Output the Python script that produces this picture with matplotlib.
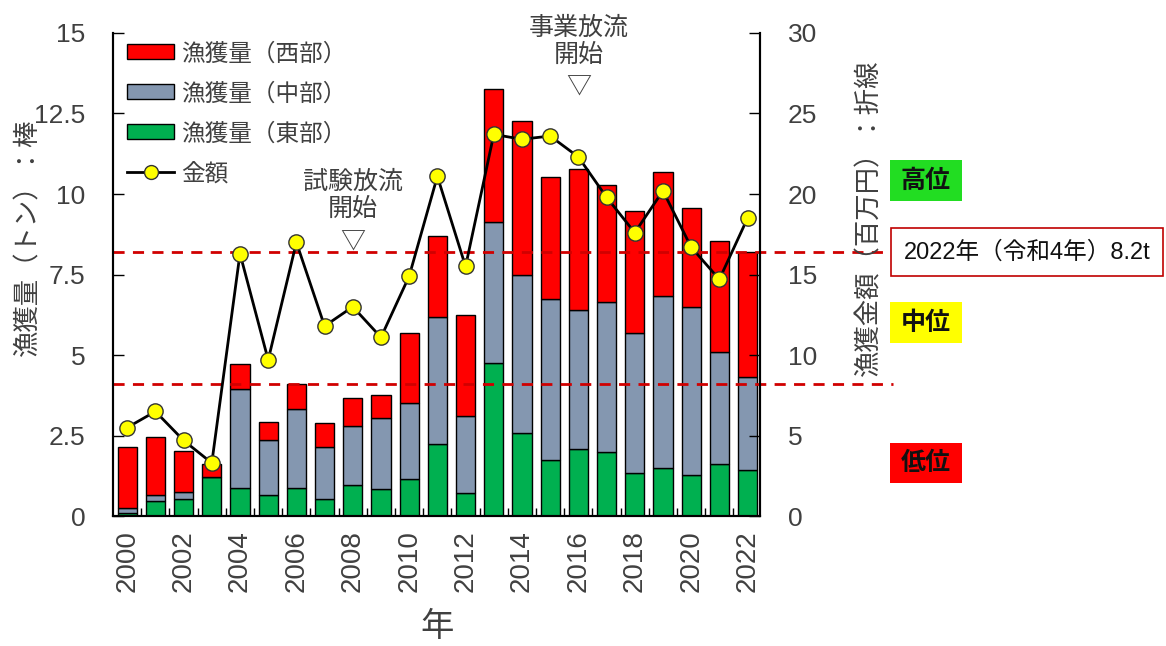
import numpy as np
import matplotlib
matplotlib.use("Agg")
import matplotlib.pyplot as plt
from matplotlib.patches import Patch, Rectangle
from matplotlib.lines import Line2D

plt.rcParams['font.family'] = ['Liberation Sans', 'Noto Sans CJK JP', 'DejaVu Sans']
jp = ['Noto Sans CJK JP', 'DejaVu Sans']

years = list(range(2000, 2023))
# 漁獲量（トン）
east = [0.10, 0.47, 0.53, 1.20, 0.88, 0.67, 0.88, 0.53, 0.97, 0.83, 1.14, 2.23, 0.73,
        4.75, 2.57, 1.74, 2.08, 1.98, 1.33, 1.51, 1.27, 1.61, 1.43]
middle = [0.15, 0.20, 0.22, 0.02, 3.07, 1.69, 2.46, 1.62, 1.83, 2.22, 2.36, 3.96, 2.38,
          4.37, 4.92, 5.00, 4.32, 4.68, 4.37, 5.33, 5.21, 3.49, 2.88]
west = [1.90, 1.79, 1.28, 0.40, 0.76, 0.56, 0.76, 0.73, 0.86, 0.72, 2.20, 2.51, 3.14,
        4.14, 4.79, 3.80, 4.38, 3.62, 3.78, 3.83, 3.10, 3.44, 3.89]
# 金額（百万円）
amount = [5.5, 6.5, 4.7, 3.3, 16.3, 9.7, 17.0, 11.8, 13.0, 11.1, 14.9, 21.1, 15.5,
          23.7, 23.4, 23.6, 22.3, 19.8, 17.6, 20.2, 16.7, 14.7, 18.5]
level_lines = [8.2, 4.1]

c_red = '#FF0000'
c_gray = '#8497B0'
c_green = '#00B050'
txt = '#404040'

fig = plt.figure(figsize=(11.66, 6.46), dpi=100)
ax = fig.add_axes([0.097, 0.201, 0.555, 0.748])
ax2 = ax.twinx()

x = np.arange(len(years))
w = 0.68
east = np.array(east)
middle = np.array(middle)
west = np.array(west)
ax.bar(x, east, w, color=c_green, edgecolor='black', linewidth=1, zorder=2)
ax.bar(x, middle, w, bottom=east, color=c_gray, edgecolor='black', linewidth=1, zorder=2)
ax.bar(x, west, w, bottom=east + middle, color=c_red, edgecolor='black', linewidth=1, zorder=2)

ax2.plot(x, amount, color='black', linewidth=2, marker='o', markersize=11,
         markerfacecolor='#FFFF00', markeredgecolor='#333333', zorder=5)

ax.set_xlim(-0.5, 22.45)
ax.set_ylim(0, 15)
ax2.set_ylim(0, 30)

# 水準の境界線（グラフ右外まで延ばす）
for v in level_lines:
    ax.axhline(v, xmin=0, xmax=1.205, color='#D00000', linestyle=(0, (4, 3)),
               linewidth=2, clip_on=False, zorder=3)

ax.set_yticks([0, 2.5, 5, 7.5, 10, 12.5, 15])
ax.set_yticklabels(['0', '2.5', '5', '7.5', '10', '12.5', '15'])
ax2.set_yticks(range(0, 31, 5))
ax.set_xticks(x)
ax.set_xticklabels([str(y) if y % 2 == 0 else '' for y in years], rotation=90)
ax.set_xticks(x[:-1] + 0.5, minor=True)
ax.tick_params(axis='x', which='major', length=0, labelsize=20, labelcolor=txt, pad=10)
ax.tick_params(axis='x', which='minor', direction='in', length=6, width=1)
ax.tick_params(axis='y', direction='in', length=8, width=1, labelsize=19,
               labelcolor=txt, pad=20)
ax2.tick_params(axis='y', direction='in', length=8, width=1, labelsize=19,
                labelcolor=txt, pad=20)

for a in (ax, ax2):
    a.spines['top'].set_visible(False)
    for s in ('left', 'right', 'bottom'):
        a.spines[s].set_linewidth(1.5)

ax.set_xlabel('年', fontsize=24, color=txt, family=jp)
ax.xaxis.set_label_coords(0.5, -0.193)
ax.set_ylabel('漁獲量（トン）：棒', fontsize=19, color=txt, family=jp)
ax.yaxis.set_label_coords(-0.111, 0.578)
ax2.set_ylabel('漁獲金額（百万円）：折線', fontsize=19, color=txt, family=jp)
ax2.yaxis.set_label_coords(1.147, 0.617)

# 放流開始の注記
ax.text(8, 9.95, '試験放流\n開始', ha='center', va='center', fontsize=18,
        color=txt, linespacing=1.05, family=jp)
ax.text(8, 8.5, '▽', ha='center', va='center', fontsize=18, color=txt, family=jp)
ax.text(16, 14.75, '事業放流\n開始', ha='center', va='center', fontsize=18,
        color=txt, linespacing=1.05, family=jp)
ax.text(16, 13.3, '▽', ha='center', va='center', fontsize=18, color=txt, family=jp)

handles = [Patch(facecolor=c_red, edgecolor='black'),
           Patch(facecolor=c_gray, edgecolor='black'),
           Patch(facecolor=c_green, edgecolor='black'),
           Line2D([], [], color='black', linewidth=2, marker='o', markersize=10,
                  markerfacecolor='#FFFF00', markeredgecolor='#333333')]
labels = ['漁獲量（西部）', '漁獲量（中部）', '漁獲量（東部）', '金額']
leg = ax2.legend(handles, labels, loc='upper left', bbox_to_anchor=(0.0, 1.01),
                 frameon=False, prop={'family': jp, 'size': 17}, labelspacing=0.72,
                 handlelength=2.0, handleheight=0.6, handletextpad=0.3,
                 borderaxespad=0.2)
for t in leg.get_texts():
    t.set_color(txt)


def fig_box(x0, y0, x1, y1, face, edge='none', lw=0):
    # ピクセル座標（左上原点）で箱を置く
    W, H = 1166, 646
    r = Rectangle((x0 / W, 1 - y1 / H), (x1 - x0) / W, (y1 - y0) / H,
                  transform=fig.transFigure, facecolor=face, edgecolor=edge,
                  linewidth=lw)
    fig.add_artist(r)
    return (x0 + x1) / 2 / W, 1 - (y0 + y1) / 2 / H


# 資源水準ラベル
for label, face, y0, y1 in [('高位', '#22DD22', 160, 201),
                            ('中位', '#FFFF00', 302, 343),
                            ('低位', '#FF0000', 443, 483)]:
    cx, cy = fig_box(890, y0, 962, y1, face)
    fig.text(cx, cy, label, ha='center', va='center', fontsize=18,
             fontweight='bold', family=jp, color='#111111')

cx, cy = fig_box(891, 228, 1163, 276, 'white', edge='#C00000', lw=1.2)
fig.text(cx, cy, '2022年（令和4年）8.2t', ha='center', va='center', fontsize=17,
         color='#111111')

fig.savefig('out.png', dpi=100)
